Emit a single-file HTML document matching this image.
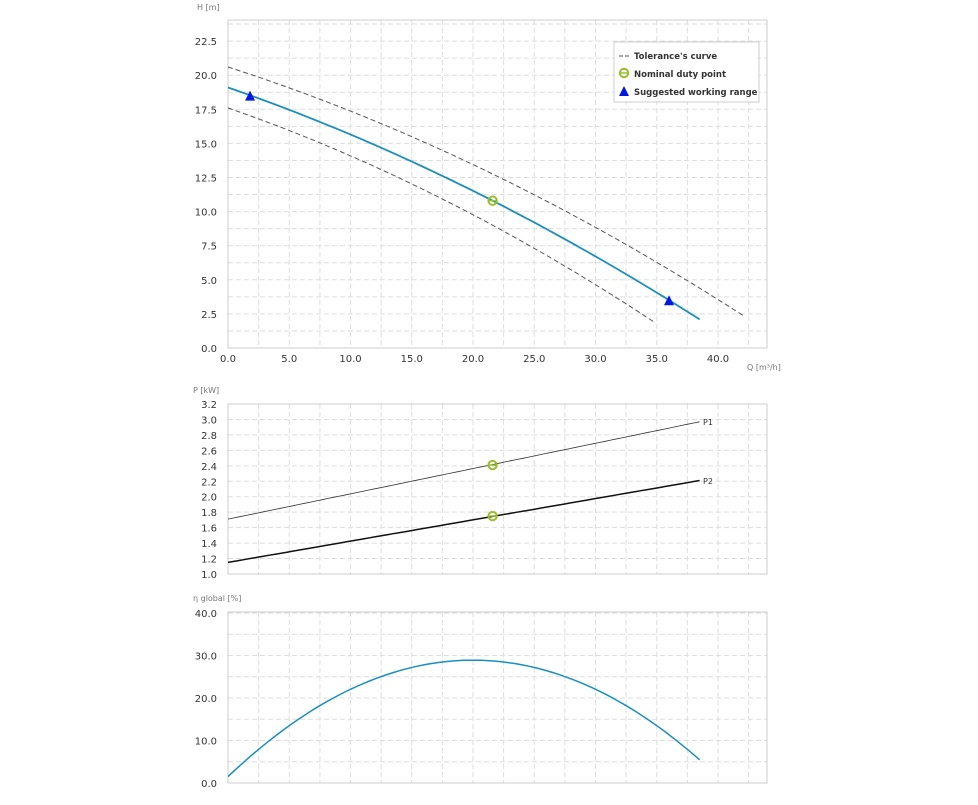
<!DOCTYPE html><html><head><meta charset="utf-8"><style>
body{margin:0;background:#fff}
svg text{font-family:"DejaVu Sans","Liberation Sans",sans-serif}
</style></head><body>
<svg id="s" width="978" height="800" xmlns="http://www.w3.org/2000/svg"></svg>
<script>
var s=document.getElementById('s'),o='';
var X0=228,XR=767,kx=12.25;
function X(q){return X0+q*kx}
function grid(top,bot,ylines){
 for(var q=2.5;q<=42.5;q+=2.5)o+='<line x1="'+X(q)+'" y1="'+top+'" x2="'+X(q)+'" y2="'+bot+'" stroke="#ddd" stroke-dasharray="5,3"/>';
 ylines.forEach(function(y){o+='<line x1="'+X0+'" y1="'+y+'" x2="'+XR+'" y2="'+y+'" stroke="#ddd" stroke-dasharray="5,3"/>';});
 o+='<rect x="'+X0+'" y="'+top+'" width="'+(XR-X0)+'" height="'+(bot-top)+'" fill="none" stroke="#ccc"/>';
}
function path(f,a,b,Y,attr){var d='';for(var i=0;i<=80;i++){var q=a+(b-a)*i/80;d+=(i?'L':'M')+X(q).toFixed(1)+','+Y(f(q)).toFixed(1);}o+='<path d="'+d+'" fill="none" '+attr+'/>';}
function txt(x,y,t,sz,col,anc,w){o+='<text x="'+x+'" y="'+y+'" font-size="'+sz+'" fill="'+col+'" text-anchor="'+(anc||'start')+'"'+(w?' font-weight="bold"':'')+'>'+t+'</text>';}
// top chart
var YH=function(h){return 348-h*13.64};
var yl=[];for(var h=1.25;h<=24;h+=1.25)yl.push(YH(h));
grid(20,348,yl);
for(var h=0;h<=22.5;h+=2.5)txt(217,YH(h)+4,h.toFixed(1),10,'#333','end');
for(var q=0;q<=40;q+=5)txt(X(q),362,q.toFixed(1),10,'#333','middle');
txt(197,10,'H [m]',8,'#777');txt(747,370,'Q [m³/h]',8,'#777');
path(function(q){return 20.6-0.289*q-0.00343*q*q},0,42.2,YH,'stroke="#555" stroke-dasharray="5,3"');
path(function(q){return 17.6-0.311*q-0.00403*q*q},0,34.8,YH,'stroke="#555" stroke-dasharray="5,3"');
path(function(q){return 19.1-0.3111*q-0.00339*q*q},0,38.5,YH,'stroke="#1a8fbf" stroke-width="1.8"');
function circ(x,y){o+='<circle cx="'+x+'" cy="'+y+'" r="4.2" fill="none" stroke="#9bbd2b" stroke-width="2"/><line x1="'+(x-4)+'" y1="'+y+'" x2="'+(x+4)+'" y2="'+y+'" stroke="#9bbd2b" stroke-width="1.5"/>';}
function tri(x,y){o+='<polygon points="'+x+','+(y-6)+' '+(x-5)+','+(y+4)+' '+(x+5)+','+(y+4)+'" fill="#0018e0"/>';}
circ(X(21.6),YH(10.8));tri(X(1.8),YH(18.5)+1);tri(X(36),YH(3.5)+1);
o+='<rect x="614" y="42" width="145" height="60" fill="#fff" stroke="#ccc"/>';
o+='<line x1="619" y1="56" x2="629" y2="56" stroke="#555" stroke-dasharray="4,2"/>';
txt(634,59,"Tolerance's curve",8.5,'#333','start',1);
circ(624,73);txt(634,77,'Nominal duty point',8.5,'#333','start',1);
tri(624,92);txt(634,95,'Suggested working range',8.5,'#333','start',1);
// power chart
var YP=function(p){return 574-(p-1)*77.27};
yl=[];for(var p=1.2;p<=3.21;p+=0.2)yl.push(YP(p));
grid(404,574,yl);
for(var p=1.0;p<=3.21;p+=0.2)txt(217,YP(p)+4,p.toFixed(1),10,'#333','end');
txt(193,393,'P [kW]',8,'#777');
path(function(q){return 1.71+q*(2.97-1.71)/38.5},0,38.5,YP,'stroke="#333" stroke-width="0.8"');
path(function(q){return 1.15+q*(2.21-1.15)/38.5},0,38.5,YP,'stroke="#111" stroke-width="1.5"');
txt(703,425,'P1',8,'#333');txt(703,484,'P2',8,'#333');
circ(X(21.6),YP(2.41));circ(X(21.6),YP(1.75));
// eta chart
var YE=function(e){return 783-e*4.25};
yl=[];for(var e=5;e<=40;e+=5)yl.push(YE(e));
grid(612,783,yl);
for(var e=0;e<=40;e+=10)txt(217,YE(e)+4,e.toFixed(1),10,'#333','end');
txt(193,601,'η global [%]',8,'#777');
path(function(q){return 28.9-0.0685*(q-20)*(q-20)},0,38.5,YE,'stroke="#1a8fbf" stroke-width="1.5"');
s.innerHTML=o;
</script></body></html>
